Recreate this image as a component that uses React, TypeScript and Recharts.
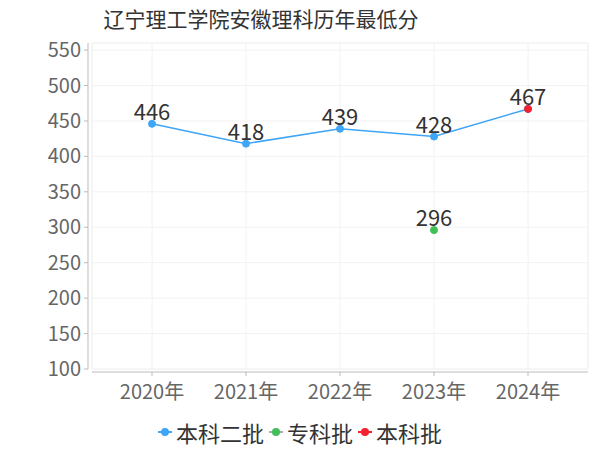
import { LineChart, Line, XAxis, YAxis, CartesianGrid, Legend, LabelList } from 'recharts'

const years = ['2020年', '2021年', '2022年', '2023年', '2024年']
const benke2 = [446, 418, 439, 428, 467]
const zhuanke = [null, null, null, 296, null]
const benke = [null, null, null, null, 467]
const yTicks = [100, 150, 200, 250, 300, 350, 400, 450, 500, 550]

const seriesNames = ['本科二批', '专科批', '本科批']
const colors = ['#3fa5f7', '#3fbf56', '#f5222d']

const data = years.map((year, i) => ({
  year,
  benke2: benke2[i],
  zhuanke: zhuanke[i],
  benke: benke[i],
}))

const FONT = "'Noto Sans CJK SC', 'Noto Sans', sans-serif"

// draws a value label above a point; skip lets a series hide a label another series already shows
const makeLabel = (skip?: (i: number) => boolean) => (props: any) => {
  const { x, y, value, index } = props
  if (value == null || (skip && skip(index))) return null
  return (
    <text x={x} y={y - 4} textAnchor="middle" fill="#333" fontSize={22} fontFamily={FONT}>
      {value}
    </text>
  )
}

const LegendContent = () => (
  <div style={{ display: 'flex', justifyContent: 'center', alignItems: 'center', fontFamily: FONT }}>
    {seriesNames.map((name, i) => (
      <div key={name} style={{ display: 'flex', alignItems: 'center', marginRight: i < 2 ? 5 : 0 }}>
        <svg width={14} height={10} style={{ marginRight: 4 }}>
          <line x1={0} y1={5} x2={14} y2={5} stroke={i === 1 ? '#aaa' : colors[i]} strokeWidth={2} />
          <circle cx={7} cy={5} r={4} fill={colors[i]} />
        </svg>
        <span style={{ fontSize: 22, color: '#333', lineHeight: '22px' }}>{name}</span>
      </div>
    ))}
  </div>
)

export default function App() {
  return (
    <div style={{ position: 'absolute', left: 0, top: 0, width: 600, height: 450, background: '#fff', fontFamily: FONT }}>
      <div
        style={{
          position: 'absolute',
          top: 8,
          left: 0,
          width: 522,
          textAlign: 'center',
          fontSize: 21,
          lineHeight: '21px',
          color: '#333',
        }}
      >
        辽宁理工学院安徽理科历年最低分
      </div>
      <LineChart width={600} height={450} data={data} margin={{ top: 43, right: 12, left: 0, bottom: 41 }}>
        <CartesianGrid stroke="#f2f2f2" />
        <CartesianGrid
          stroke="#f2f2f2"
          verticalCoordinatesGenerator={({ offset }: any) => [offset.left, offset.left + offset.width]}
          horizontalCoordinatesGenerator={({ offset }: any) => [offset.top, offset.top + offset.height]}
        />
        <XAxis
          dataKey="year"
          padding={{ left: 60, right: 60 }}
          height={40}
          tickSize={4}
          tickMargin={12}
          axisLine={{ stroke: '#bbb', transform: 'translate(0,3)' }}
          tickLine={{ stroke: '#bbb', transform: 'translate(0,3)' }}
          tick={{ fill: '#666', fontSize: 20 }}
        />
        <YAxis
          domain={[100, 560]}
          ticks={yTicks}
          width={92}
          tickSize={4}
          tickMargin={7}
          axisLine={{ stroke: '#bbb', transform: 'translate(-4,0)' }}
          tickLine={{ stroke: '#bbb', transform: 'translate(-4,0)' }}
          tick={{ fill: '#666', fontSize: 20 }}
          allowDataOverflow
        />
        <Legend
          verticalAlign="middle"
          align="center"
          content={<LegendContent />}
          wrapperStyle={{ top: 421, left: 0, width: 600 }}
        />
        <Line
          dataKey="benke2"
          name={seriesNames[0]}
          stroke={colors[0]}
          strokeWidth={1.5}
          dot={{ r: 3.5, fill: colors[0], stroke: colors[0], strokeWidth: 1 }}
          isAnimationActive={false}
        >
          <LabelList dataKey="benke2" content={makeLabel((i) => benke[i] != null)} />
        </Line>
        <Line
          dataKey="zhuanke"
          name={seriesNames[1]}
          stroke="none"
          dot={{ r: 3.5, fill: colors[1], stroke: colors[1], strokeWidth: 1 }}
          isAnimationActive={false}
        >
          <LabelList dataKey="zhuanke" content={makeLabel()} />
        </Line>
        <Line
          dataKey="benke"
          name={seriesNames[2]}
          stroke="none"
          dot={{ r: 3.5, fill: colors[2], stroke: colors[2], strokeWidth: 1 }}
          isAnimationActive={false}
        >
          <LabelList dataKey="benke" content={makeLabel()} />
        </Line>
      </LineChart>
    </div>
  )
}
